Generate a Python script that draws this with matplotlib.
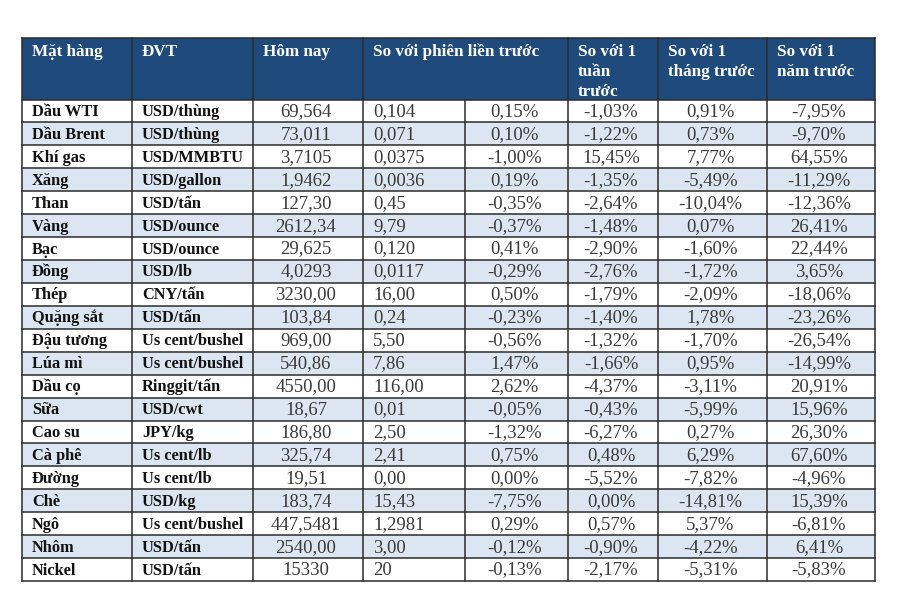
import matplotlib

matplotlib.use("Agg")
import matplotlib.pyplot as plt
from matplotlib.patches import Rectangle

# --- du lieu bang gia hang hoa ---
items = ["Dầu WTI", "Dầu Brent", "Khí gas", "Xăng", "Than", "Vàng", "Bạc", "Đồng",
         "Thép", "Quặng sắt", "Đậu tương", "Lúa mì", "Dầu cọ", "Sữa", "Cao su",
         "Cà phê", "Đường", "Chè", "Ngô", "Nhôm", "Nickel"]
units = ["USD/thùng", "USD/thùng", "USD/MMBTU", "USD/gallon", "USD/tấn", "USD/ounce",
         "USD/ounce", "USD/lb", "CNY/tấn", "USD/tấn", "Us cent/bushel", "Us cent/bushel",
         "Ringgit/tấn", "USD/cwt", "JPY/kg", "Us cent/lb", "Us cent/lb", "USD/kg",
         "Us cent/bushel", "USD/tấn", "USD/tấn"]
today = ["69,564", "73,011", "3,7105", "1,9462", "127,30", "2612,34", "29,625", "4,0293",
         "3230,00", "103,84", "969,00", "540,86", "4550,00", "18,67", "186,80", "325,74",
         "19,51", "183,74", "447,5481", "2540,00", "15330"]
chg_abs = ["0,104", "0,071", "0,0375", "0,0036", "0,45", "9,79", "0,120", "0,0117",
           "16,00", "0,24", "5,50", "7,86", "116,00", "0,01", "2,50", "2,41", "0,00",
           "15,43", "1,2981", "3,00", "20"]
chg_pct = ["0,15%", "0,10%", "-1,00%", "0,19%", "-0,35%", "-0,37%", "0,41%", "-0,29%",
           "0,50%", "-0,23%", "-0,56%", "1,47%", "2,62%", "-0,05%", "-1,32%", "0,75%",
           "0,00%", "-7,75%", "0,29%", "-0,12%", "-0,13%"]
vs_week = ["-1,03%", "-1,22%", "15,45%", "-1,35%", "-2,64%", "-1,48%", "-2,90%", "-2,76%",
           "-1,79%", "-1,40%", "-1,32%", "-1,66%", "-4,37%", "-0,43%", "-6,27%", "0,48%",
           "-5,52%", "0,00%", "0,57%", "-0,90%", "-2,17%"]
vs_month = ["0,91%", "0,73%", "7,77%", "-5,49%", "-10,04%", "0,07%", "-1,60%", "-1,72%",
            "-2,09%", "1,78%", "-1,70%", "0,95%", "-3,11%", "-5,99%", "0,27%", "6,29%",
            "-7,82%", "-14,81%", "5,37%", "-4,22%", "-5,31%"]
vs_year = ["-7,95%", "-9,70%", "64,55%", "-11,29%", "-12,36%", "26,41%", "22,44%", "3,65%",
           "-18,06%", "-23,26%", "-26,54%", "-14,99%", "20,91%", "15,96%", "26,30%",
           "67,60%", "-4,96%", "15,39%", "-6,81%", "6,41%", "-5,83%"]
headers = ["Mặt hàng", "ĐVT", "Hôm nay", "So với phiên liền trước",
           "So với 1\ntuần\ntrước", "So với 1\ntháng trước", "So với 1\nnăm trước"]

# --- mise en page (pixels) ---
col_x = [22, 132, 253, 363, 465, 568, 658, 767, 875]
top, head_bot, bottom = 38, 99.5, 581
navy = "#1f4a7c"
stripe = "#dce6f2"
line_c = "#2b2b2b"
serif = "Liberation Serif"

fig = plt.figure(figsize=(9, 6.14), dpi=100)
ax = fig.add_axes([0, 0, 1, 1])
ax.set_xlim(0, 900)
ax.set_ylim(614, 0)
ax.axis("off")

n = len(items)
row_h = (bottom - head_bot) / n

# en-tete
ax.add_patch(Rectangle((col_x[0], top), col_x[-1] - col_x[0], head_bot - top,
                       facecolor=navy, edgecolor="none"))
head_left = [col_x[0], col_x[1], col_x[2], col_x[3], col_x[5], col_x[6], col_x[7]]
for x, h in zip(head_left, headers):
    ax.text(x + 10, top + 5.5, h, color="white", fontsize=12.3, fontweight="bold",
            family=serif, ha="left", va="top", linespacing=1.36)

# lignes
cols = [today, chg_abs, chg_pct, vs_week, vs_month, vs_year]
for i in range(n):
    y0 = head_bot + i * row_h
    yb = y0 + row_h / 2 + 5
    if i % 2 == 1:
        ax.add_patch(Rectangle((col_x[0], y0), col_x[-1] - col_x[0], row_h,
                               facecolor=stripe, edgecolor="none"))
    ax.text(col_x[0] + 10, yb, items[i], fontsize=11.8, fontweight="bold",
            family=serif, ha="left", va="baseline", color="#111111")
    ax.text(col_x[1] + 10, yb, units[i], fontsize=11.8, fontweight="bold",
            family=serif, ha="left", va="baseline", color="#111111")
    for k, vals in enumerate(cols):
        c0, c1 = col_x[k + 2], col_x[k + 3]
        if k == 1:
            ax.text(c0 + 10, yb, vals[i], fontsize=13.5, family=serif,
                    ha="left", va="baseline", color="#3a3a3a")
        else:
            ax.text((c0 + c1) / 2 - 2, yb, vals[i], fontsize=13.5, family=serif,
                    ha="center", va="baseline", color="#3a3a3a")

# quadrillage
for i in range(n + 1):
    y = head_bot + i * row_h
    ax.plot([col_x[0], col_x[-1]], [y, y], color=line_c, lw=1.1)
ax.plot([col_x[0], col_x[-1]], [top, top], color=line_c, lw=1.1)
for j, x in enumerate(col_x):
    y_start = head_bot if j == 4 else top
    ax.plot([x, x], [y_start, bottom], color=line_c, lw=1.1)

fig.savefig("out.png", dpi=100)
